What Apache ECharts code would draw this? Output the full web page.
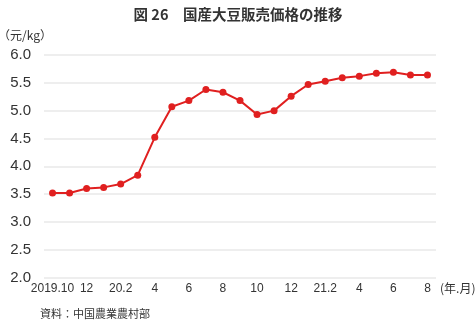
<!DOCTYPE html>
<html>
<head>
<meta charset="utf-8">
<script src="https://cdn.jsdelivr.net/npm/echarts@6/dist/echarts.min.js"></script>
<style>html,body{margin:0;padding:0;background:#fff;}#c{width:476px;height:323px;}</style>
</head>
<body>
<div id="c"></div>
<script>
var categories = ['2019.10','11','12','20.1','20.2','3','4','5','6','7','8','9','10','11','12','21.1','21.2','3','4','5','6','7','8'];
var prices = [3.52,3.52,3.60,3.62,3.68,3.84,4.52,5.07,5.18,5.38,5.33,5.18,4.93,5.00,5.26,5.47,5.53,5.59,5.62,5.67,5.69,5.64,5.64];
var yTicks = [2.0,2.5,3.0,3.5,4.0,4.5,5.0,5.5,6.0];

var FONT = '"Noto Sans CJK JP", "Noto Sans", sans-serif';
var chart = echarts.init(document.getElementById('c'), null, {renderer:'canvas'});
chart.setOption({
  animation:false,
  backgroundColor:'#fff',
  title:{
    text:'図 26　国産大豆販売価格の推移',
    left:'center', top:2,
    textStyle:{fontFamily:FONT, fontSize:14.5, fontWeight:'bold', color:'#333'}
  },
  graphic:[
    {type:'text', left:-2, top:29, style:{text:'（元/kg）', font:'12px '+FONT, fill:'#333'}},
    {type:'text', left:40, top:308, style:{text:'資料：中国農業農村部', font:'11px '+FONT, fill:'#333'}}
  ],
  grid:{left:44, right:40, top:55, bottom:45.5, containLabel:false, outerBoundsMode:'none'},
  xAxis:{
    type:'category', data:categories, boundaryGap:true,
    axisLine:{show:false}, axisTick:{show:false},
    axisLabel:{interval:1, margin:5, fontSize:12, color:'#333', fontFamily:'"Liberation Sans", Arial, sans-serif'},
    name:'(年.月)', nameLocation:'end', nameGap:4,
    nameTextStyle:{fontSize:12, color:'#333', fontFamily:FONT, verticalAlign:'top', padding:[5,0,0,0]}
  },
  yAxis:{
    type:'value', min:yTicks[0], max:yTicks[yTicks.length-1], interval:0.5,
    axisLine:{show:false}, axisTick:{show:false},
    axisLabel:{margin:13, fontSize:15, color:'#333', fontFamily:'"Liberation Sans", Arial, sans-serif',
      formatter:function(v){return v.toFixed(1);}},
    splitLine:{lineStyle:{color:'#e8e8e8', width:1.5}}
  },
  series:[{
    type:'line', data:prices,
    symbol:'circle', symbolSize:7,
    lineStyle:{color:'#e02020', width:2},
    itemStyle:{color:'#e02020'}
  }]
});
</script>
</body>
</html>
